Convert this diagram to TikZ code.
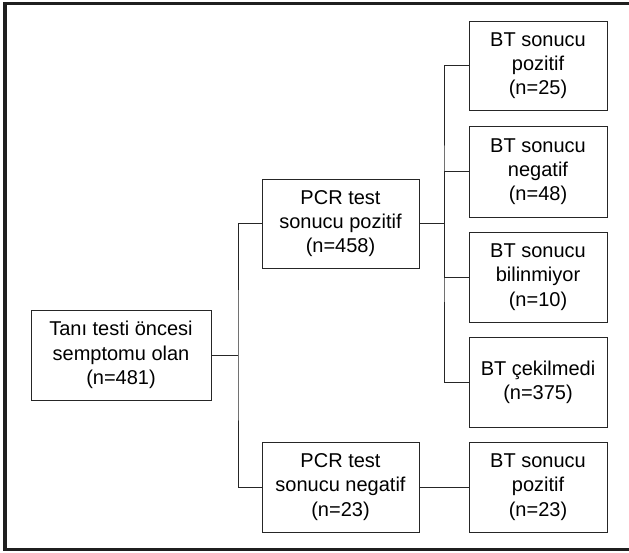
\documentclass[tikz,border=0pt]{standalone}
\usepackage{fontspec}
\setmainfont{Liberation Sans}
\begin{document}
\begin{tikzpicture}[x=1pt,y=-1pt,
  box/.style={draw=black!85,line width=0.9pt,align=center,inner sep=0pt,
    font=\fontsize{20}{24.2}\selectfont,text=black},
  conn/.style={draw=black!85,line width=0.9pt},
  frame/.style={draw=black!88,line width=3.5pt}]
\useasboundingbox (0,0) rectangle (629,552);
\draw[frame] (629,3.5) -- (5,3.5) -- (5,549.5) -- (629,549.5);
\node[box,minimum width=180,minimum height=90] (root) at (121,355) {Tanı testi öncesi\\semptomu olan\\(n=481)};
\node[box,minimum width=157,minimum height=89] (pcrpos) at (340.5,223.5) {PCR test\\sonucu pozitif\\(n=458)};
\node[box,minimum width=157,minimum height=90] (pcrneg) at (340.5,487) {PCR test\\sonucu negatif\\(n=23)};
\node[box,minimum width=138,minimum height=89] (bt1) at (538,65.5) {BT sonucu\\pozitif\\(n=25)};
\node[box,minimum width=138,minimum height=91] (bt2) at (538,171.5) {BT sonucu\\negatif\\(n=48)};
\node[box,minimum width=138,minimum height=90] (bt3) at (538,277) {BT sonucu\\bilinmiyor\\(n=10)};
\node[box,minimum width=138,minimum height=90] (bt4) at (538,382) {BT çekilmedi\\(n=375)};
\node[box,minimum width=138,minimum height=90] (bt5) at (538,487) {BT sonucu\\pozitif\\(n=23)};
\coordinate (j1) at (238,355);
\coordinate (j2) at (444,223.5);
\draw[conn] (root.east) -- (j1);
\draw[conn] (pcrpos.west) -| (j1) |- (pcrneg.west);
\draw[conn] (pcrpos.east) -- (j2);
\draw[conn] (bt1.west) -| (j2) |- (bt4.west);
\draw[conn] (bt2.west) -| (j2);
\draw[conn] (bt3.west) -| (j2);
\draw[conn] (pcrneg.east) -- (bt5.west);
\end{tikzpicture}
\end{document}
